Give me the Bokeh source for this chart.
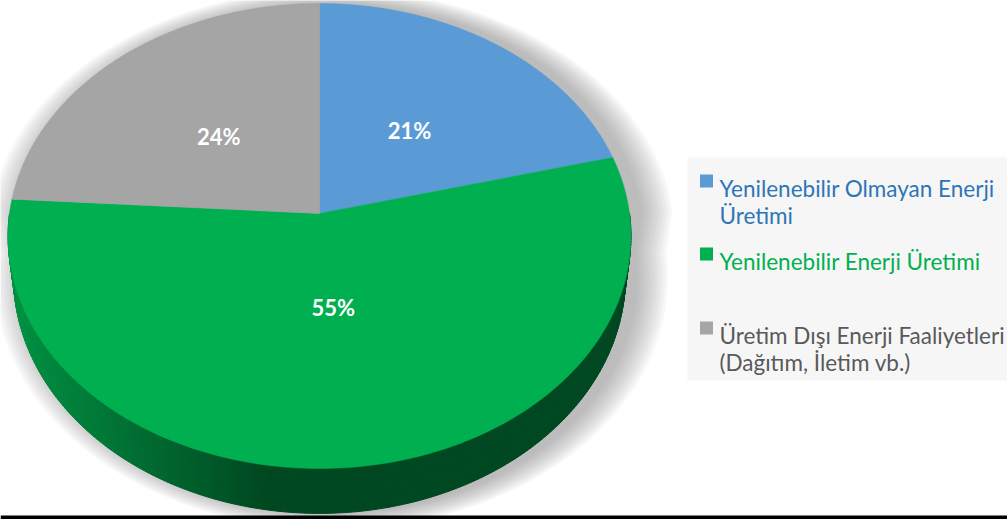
import numpy as np
from bokeh.plotting import figure
from bokeh.models import Range1d
from bokeh.core.properties import value
from bokeh.embed import file_html
from bokeh.resources import INLINE

# ---------------- data ----------------
categories = [
    "Yenilenebilir Olmayan Enerji\nÜretimi",
    "Yenilenebilir Enerji Üretimi",
    "Üretim Dışı Enerji Faaliyetleri\n(Dağıtım, İletim vb.)",
]
values = [21, 55, 24]
labels = ["21%", "55%", "24%"]
slice_colors = ["#5b9bd5", "#00b050", "#a5a5a5"]
text_colors = ["#2e75b6", "#00b050", "#595959"]

# ---------------- geometry (styling) ----------------
W, H = 1007, 519
CX, CY = 319.0, 213.0      # pie vertex (page px)
A, B = 310.0, 230.3        # radii of the tilted disc
K = 0.0967                 # perspective factor
D = 40.6                   # thickness
BOTTOM_SX = 0.982          # bottom face slightly narrower (seen from above)
LABEL_RX, LABEL_RY, LABEL_DY = 147.0, 99.0, -5.0

def proj(theta_deg, r=1.0, depth=0.0, sx=1.0):
    t = np.radians(theta_deg)
    u = r * np.cos(t)
    v = r * np.sin(t)
    den = 1 + K * v
    return CX + sx * A * u / den, CY - B * v / den + depth / den

def hex2rgb(h):
    h = h.lstrip("#")
    return tuple(int(h[i:i + 2], 16) for i in (0, 2, 4))

def rgb2hex(c):
    return "#%02x%02x%02x" % tuple(int(max(0, min(255, round(x)))) for x in c)

p = figure(width=W, height=H, x_range=Range1d(0, W), y_range=Range1d(H, 0),
           output_backend="svg", toolbar_location=None, min_border=0)
p.axis.visible = False
p.grid.visible = False
p.outline_line_color = None
p.background_fill_color = "white"
p.border_fill_color = "white"

# ---------------- shadow ----------------
th_up = np.linspace(0, 180, 120)
th_dn = np.linspace(180, 360, 120)
ux, uy = proj(th_up)
dx_, dy_ = proj(th_dn, depth=D, sx=BOTTOM_SX)
base_x = np.concatenate([ux, dx_])
base_y = np.concatenate([uy, dy_])
sh_xs, sh_ys = [], []
for s in np.linspace(1.0, 1.1, 12):
    sh_xs.append(list(CX + 12 + (base_x - CX) * s))
    sh_ys.append(list(CY + 30 + (base_y - CY - 30) * (1 + (s - 1) * 0.6)))
p.patches(sh_xs, sh_ys, fill_color="#6f6f6f", fill_alpha=0.05, line_color=None)

# ---------------- slice angles ----------------
starts, ends = [], []
a0 = 90.0
for v in values:
    a1 = a0 - 360.0 * v / sum(values)
    starts.append(a0)
    ends.append(a1)
    a0 = a1

def slice_of(theta):
    for i, (s, e) in enumerate(zip(starts, ends)):
        for k in (-360, 0, 360):
            if e <= theta + k <= s:
                return i
    return 0

# ---------------- side (front half) ----------------
side_xs, side_ys, side_cols = [], [], []
thetas = np.linspace(180, 360, 241)
for t0, t1 in zip(thetas[:-1], thetas[1:]):
    i = slice_of((t0 + t1) / 2)
    x0, y0 = proj(t0)
    x1, y1 = proj(t1)
    x0b, y0b = proj(t0, depth=D, sx=BOTTOM_SX)
    x1b, y1b = proj(t1, depth=D, sx=BOTTOM_SX)
    xm = (x0 + x1) / 2
    f = 0.41 + (0.82 - 0.41) * min(1, max(0, 1 - (xm - 15) / 250))
    col = rgb2hex([c * f for c in hex2rgb(slice_colors[i])])
    side_xs.append([x0, x1, x1b, x0b])
    side_ys.append([y0, y1, y1b, y0b])
    side_cols.append(col)
p.patches(side_xs, side_ys, fill_color=side_cols, line_color=side_cols, line_width=1)

# ---------------- top face ----------------
top_xs, top_ys = [], []
for s, e in zip(starts, ends):
    th = np.linspace(s, e, 200)
    ax, ay = proj(th)
    top_xs.append([CX] + list(ax))
    top_ys.append([CY] + list(ay))
p.patches(top_xs, top_ys, fill_color=slice_colors, line_color=slice_colors, line_width=0.5)

# ---------------- labels ----------------
lx, ly = [], []
for s, e in zip(starts, ends):
    m = np.radians((s + e) / 2)
    lx.append(CX + LABEL_RX * np.cos(m))
    ly.append(CY + LABEL_DY - LABEL_RY * np.sin(m))
p.text(lx, ly, text=labels, text_color="white", text_font=value("Lato"),
       text_font_style="bold", text_font_size="22px", text_align="center",
       text_baseline="middle")

# ---------------- legend ----------------
p.quad(left=[687], right=[1010], top=[157], bottom=[380], fill_color="#f6f6f6", line_color=None)
leg_base = [188, 261, 335]
LINE_H = 27
sq_x, sq_y = [], []
tx, ty, tt, tc = [], [], [], []
for i, (cat, yb) in enumerate(zip(categories, leg_base)):
    sq_x.append(706)
    sq_y.append(yb - 7.5)
    for j, line in enumerate(cat.split("\n")):
        tx.append(719)
        ty.append(yb + j * LINE_H)
        tt.append(line)
        tc.append(text_colors[i])
p.rect(sq_x, sq_y, width=13, height=13, fill_color=slice_colors, line_color=None)
p.text(tx, ty, text=tt, text_color=tc, text_font=value("Lato"), text_font_size="22.5px",
       text_align="left", text_baseline="alphabetic")

# ---------------- bottom rule ----------------
p.quad(left=[0], right=[1010], top=[515], bottom=[518.5], fill_color="black", line_color=None)

open("out.html", "w").write(file_html(p, INLINE))
